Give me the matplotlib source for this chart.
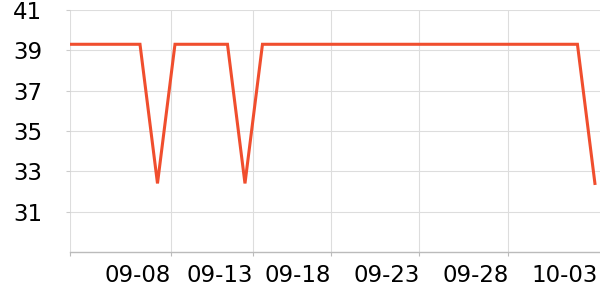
import matplotlib
matplotlib.use("Agg")
import matplotlib.pyplot as plt

# daily readings, 09-03 .. 10-03
days = list(range(31))
values = [39.3, 39.3, 39.3, 39.3, 39.3, 32.4, 39.3, 39.3, 39.3, 39.3,
          32.4, 39.3, 39.3, 39.3, 39.3, 39.3, 39.3, 39.3, 39.3, 39.3,
          39.3, 39.3, 39.3, 39.3, 39.3, 39.3, 39.3, 39.3, 39.3, 39.3,
          32.4]

x_tick_pos = [0, 5.77, 10.44, 14.94, 19.97, 25.06, 30.17]
x_tick_labels = ['', '09-08', '09-13', '09-18', '09-23', '09-28', '10-03']
y_ticks = [31, 33, 35, 37, 39, 41]

fig = plt.figure(figsize=(6, 3), dpi=100)
ax = fig.add_axes([70 / 600, 1 - 252 / 300, 530 / 600, 242 / 300])

ax.plot(days, values, color='#f04e2e', linewidth=2.2, solid_joinstyle='miter', zorder=3)

ax.set_xlim(0, 30.29)
ax.set_ylim(29, 41)
ax.set_yticks(y_ticks)
ax.set_xticks(x_tick_pos)
ax.set_xticklabels(x_tick_labels, ha='right')

ax.grid(True, color='#dddddd', linewidth=0.8, zorder=0)
# last date label sits at the right edge, no gridline there
ax.get_xgridlines()[-1].set_visible(False)
ax.get_xticklines()[-2].set_visible(False)
for side in ['top', 'right', 'left']:
    ax.spines[side].set_visible(False)
ax.spines['bottom'].set_color('#bbbbbb')
ax.spines['bottom'].set_linewidth(1)

ax.tick_params(axis='y', length=3, color='#cccccc', pad=17, labelsize=16.5)
ax.tick_params(axis='x', length=3, color='#bbbbbb', pad=6, labelsize=16.5)

fig.savefig('out.png', dpi=100)
